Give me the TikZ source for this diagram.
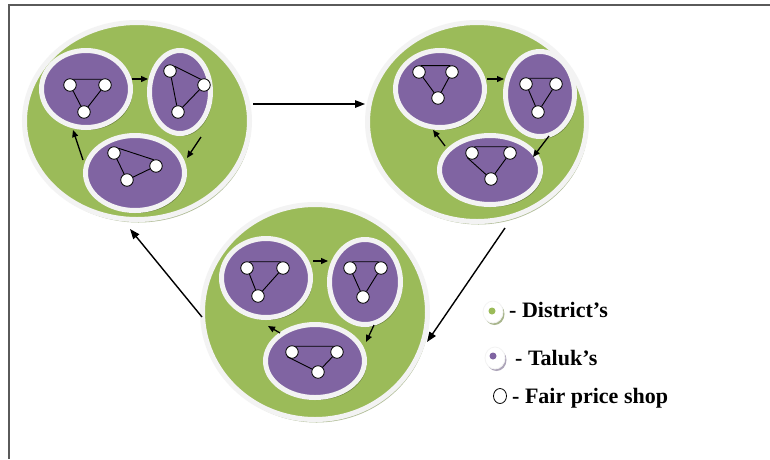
\documentclass[tikz,border=0pt]{standalone}
\usepackage{fontspec}
\setmainfont{Liberation Serif}
\usetikzlibrary{shapes.geometric,arrows.meta,shadows}
\definecolor{distgreen}{HTML}{9BBB59}
\definecolor{talpurple}{HTML}{8064A2}
\definecolor{ringwhite}{HTML}{F3F3F3}
\definecolor{gshadow}{HTML}{9FAE80}
\definecolor{pshadow}{HTML}{A59CB2}
\definecolor{framegray}{HTML}{5A5A5A}
\tikzset{
  district/.style={ellipse, inner sep=0pt, fill=distgreen, draw=ringwhite, line width=5pt,
    drop shadow={shadow xshift=1.5pt, shadow yshift=-3pt, fill=gshadow, opacity=0.8}},
  taluk/.style={ellipse, inner sep=0pt, fill=talpurple, draw=ringwhite, line width=5pt,
    drop shadow={shadow xshift=2pt, shadow yshift=-2.5pt, fill=black, opacity=0.3}},
  shop/.style={circle, inner sep=0pt, minimum size=12.5pt, fill=white, draw=black, line width=0.8pt},
  edge/.style={draw=black, line width=0.9pt},
  smallarrow/.style={draw=black, line width=1.3pt, -{Triangle[length=7pt,width=6pt]}},
  bigarrow/.style={draw=black, line width=1.4pt, -{Triangle[length=10pt,width=7.5pt]}},
  legendtext/.style={anchor=base west, inner sep=0pt, font=\fontsize{22}{26}\selectfont\bfseries},
  framestyle/.style={draw=framegray, line width=2pt}
}
\begin{document}
\begin{tikzpicture}[x=1pt,y=-1pt]
\useasboundingbox (0,0) rectangle (770,459);
\fill[white] (0,0) rectangle (770,459);
% frame (top and left only)
\coordinate (ftl) at (8.5,4.5);
\coordinate (ftr) at (770,4.5);
\coordinate (fbl) at (8.5,459);
\draw[framestyle] (ftr) -- (ftl) -- (fbl);

% districts
\node[district, minimum width=225pt, minimum height=197pt] (D1) at (137,121) {};
\node[district, minimum width=219pt, minimum height=199pt] (D2) at (477,122) {};
\node[district, minimum width=225pt, minimum height=215pt] (D3) at (315,312) {};

% taluks
\node[taluk, minimum width=89pt, minimum height=77pt] (D1T1) at (86,89) {};
\node[taluk, minimum width=61pt, minimum height=83pt] (D1T2) at (180,92) {};
\node[taluk, minimum width=99pt, minimum height=75pt] (D1T3) at (135,173) {};
\node[taluk, minimum width=89pt, minimum height=77pt] (D2T1) at (440,89) {};
\node[taluk, minimum width=69pt, minimum height=85pt] (D2T2) at (540,94) {};
\node[taluk, minimum width=101pt, minimum height=69pt] (D2T3) at (490,170) {};
\node[taluk, minimum width=89pt, minimum height=79pt] (D3T1) at (266,278) {};
\node[taluk, minimum width=71pt, minimum height=85pt] (D3T2) at (365,282) {};
\node[taluk, minimum width=99pt, minimum height=73pt] (D3T3) at (315,361) {};

% shops D1
\node[shop] (a11) at (70,85) {};  \node[shop] (b11) at (105,85) {}; \node[shop] (c11) at (84,112) {};
\node[shop] (a12) at (170,71) {}; \node[shop] (b12) at (204,85) {}; \node[shop] (c12) at (178,112) {};
\node[shop] (a13) at (114,153) {}; \node[shop] (b13) at (156,166) {}; \node[shop] (c13) at (127,180) {};
% shops D2
\node[shop] (a21) at (419,72) {}; \node[shop] (b21) at (452,72) {}; \node[shop] (c21) at (438,98) {};
\node[shop] (a22) at (526,84) {}; \node[shop] (b22) at (556,84) {}; \node[shop] (c22) at (538,112) {};
\node[shop] (a23) at (472,153) {}; \node[shop] (b23) at (510,153) {}; \node[shop] (c23) at (491,179) {};
% shops D3
\node[shop] (a31) at (247,268) {}; \node[shop] (b31) at (283,268) {}; \node[shop] (c31) at (258,296) {};
\node[shop] (a32) at (350,268) {}; \node[shop] (b32) at (381,268) {}; \node[shop] (c32) at (363,297) {};
\node[shop] (a33) at (292,352) {}; \node[shop] (b33) at (337,352) {}; \node[shop] (c33) at (318,372) {};

% shop links
\draw[edge] (a11.60) -- (b11.120) (a11) -- (c11) (b11) -- (c11);
\draw[edge] (a12.45) -- (b12.120) (a12) -- (c12) (b12) -- (c12);
\draw[edge] (a13.45) -- (b13.110) (a13) -- (c13) (c13) -- (b13);
\draw[edge] (a21.75) -- (b21.105) (a21) -- (c21) (b21) -- (c21);
\draw[edge] (a22.60) -- (b22.120) (a22) -- (c22) (b22) -- (c22);
\draw[edge] (a23.70) -- (b23.110) (a23.225) -- (c23) (b23) -- (c23);
\draw[edge] (a31.70) -- (b31.110) (a31) -- (c31) (b31) -- (c31);
\draw[edge] (a32.70) -- (b32.110) (a32) -- (c32) (b32) -- (c32);
\draw[edge] (a33.60) -- (b33.120) (a33.225) -- (c33) (c33) -- (b33);

% arrows between taluks
\coordinate (s112) at (132,79);  \coordinate (e112) at (148,79);
\coordinate (s123) at (201,137); \coordinate (e123) at (187,158);
\coordinate (s131) at (83,160);  \coordinate (e131) at (73,130);
\coordinate (s212) at (487,79);  \coordinate (e212) at (504,79);
\coordinate (s223) at (549,136); \coordinate (e223) at (533,157);
\coordinate (s231) at (445,146); \coordinate (e231) at (433,130);
\coordinate (s312) at (313,261); \coordinate (e312) at (328,261);
\coordinate (s323) at (374,325); \coordinate (e323) at (366,342);
\coordinate (s331) at (280,333); \coordinate (e331) at (268,326);
\foreach \d in {1,2,3}{
  \draw[smallarrow] (s\d12) -- (e\d12);
  \draw[smallarrow] (s\d23) -- (e\d23);
  \draw[smallarrow] (s\d31) -- (e\d31);
}

% arrows between districts
\coordinate (sD12) at (253,104); \coordinate (eD12) at (365,104);
\coordinate (sD23) at (505,228); \coordinate (eD23) at (427,342);
\coordinate (sD31) at (202,317); \coordinate (eD31) at (130,229);
\draw[bigarrow] (sD12) -- (eD12);
\draw[bigarrow] (sD23) -- (eD23);
\draw[bigarrow] (sD31) -- (eD31);

% legend
\node[ellipse, inner sep=0pt, minimum width=20pt, minimum height=22pt, fill=white, draw=ringwhite, line width=0.8pt,
  drop shadow={shadow xshift=1.5pt, shadow yshift=-2pt, fill=gshadow, opacity=0.9}] (LD) at (493,312) {};
\node[circle, inner sep=0pt, minimum size=7pt, fill=distgreen] (LDd) at (492,311) {};
\node[legendtext] (LDt) at (509,317) {- District’s};

\node[ellipse, inner sep=0pt, minimum width=20pt, minimum height=22pt, fill=white, draw=ringwhite, line width=0.8pt,
  drop shadow={shadow xshift=1.5pt, shadow yshift=-2pt, fill=pshadow, opacity=0.9}] (LT) at (495,358) {};
\node[circle, inner sep=0pt, minimum size=7pt, fill=talpurple] (LTd) at (493,356) {};
\node[legendtext] (LTt) at (515,365) {- Taluk’s};

\node[ellipse, inner sep=0pt, minimum width=13pt, minimum height=15pt, fill=white, draw=black, line width=0.8pt] (LS) at (500,396) {};
\node[legendtext] (LSt) at (512,403) {- Fair price shop};
\end{tikzpicture}
\end{document}
